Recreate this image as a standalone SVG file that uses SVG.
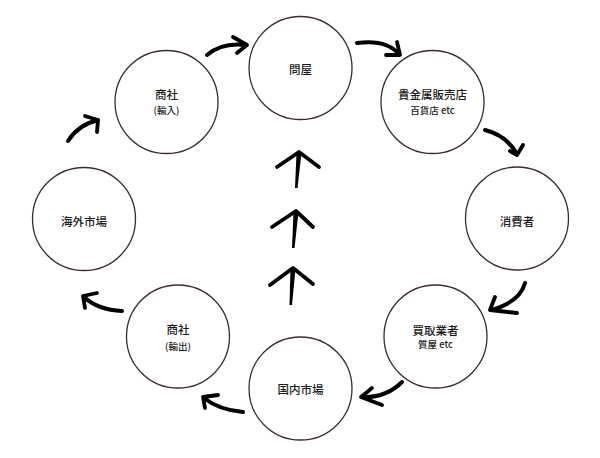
<svg xmlns="http://www.w3.org/2000/svg" width="600" height="458" viewBox="0 0 600 458">
<style>
.node circle{fill:#fff;stroke:#3a2d29;stroke-width:1.3}
.t{font-family:"Noto Sans CJK JP","Noto Sans",sans-serif;font-size:11.5px;font-weight:500;fill:#1a1a1a;text-anchor:middle}
.s{font-family:"Noto Sans CJK JP","Noto Sans",sans-serif;font-size:9.5px;font-weight:500;fill:#1a1a1a;text-anchor:middle}
.arr{fill:none;stroke:#000;stroke-width:4;stroke-linecap:round;stroke-linejoin:round}
.hd{fill:none;stroke:#000;stroke-width:3.8;stroke-linecap:round;stroke-linejoin:round}
.up{fill:#000}
</style>
<rect width="600" height="458" fill="#fff"/>
<g id="connectors">
<path class="arr" d="M207,55 Q222,42 246,45"/>
<path class="hd" d="M233,37 L247,45 L237,53"/>
<path class="arr" d="M357,43 Q386,39 399,54"/>
<path class="hd" d="M397,42 L400,55 L386,55"/>
<path class="arr" d="M485,130 Q506,135 517,154"/>
<path class="hd" d="M523,145 L517,155 L510,151"/>
<path class="arr" d="M525,283 Q520,302 491,310"/>
<path class="hd" d="M495,297 L490,310 L517,313"/>
<path class="arr" d="M402,382 Q386,398 362,397"/>
<path class="hd" d="M372,388 L361,397 L382,405"/>
<path class="arr" d="M243,412 Q219,410 204,398"/>
<path class="hd" d="M218,395 L203,397 L205,408"/>
<path class="arr" d="M122,311 Q98,310 84,297"/>
<path class="hd" d="M97,293 L83,296 L85,308"/>
<path class="arr" d="M68,141 Q78,125 98,120"/>
<path class="hd" d="M85,116 L98,120 L97,132"/>
<path class="up" d="M296.5,153 L301.5,153 L297.5,188 L295,188 Z"/>
<path class="hd" d="M277,167 L299,152 L319,167"/>
<path class="up" d="M293.5,212 L298.5,212 L294.5,248 L292,248 Z"/>
<path class="hd" d="M272,227 L296,211 L313,227"/>
<path class="up" d="M290.5,269 L295.5,269 L292,305 L289.5,305 Z"/>
<path class="hd" d="M270,285 L293,268 L313,284"/>
</g>
<g id="tonya" class="node"><circle cx="300.5" cy="68" r="51.5"/><text class="t" x="300.5" y="74">問屋</text></g>
<g id="shosha-yunyu" class="node"><circle cx="166.5" cy="102" r="51.5"/><text class="t" x="166.5" y="99">商社</text><text class="s" x="166.5" y="114">(輸入)</text></g>
<g id="kikinzoku" class="node"><circle cx="432.5" cy="102" r="51.5"/><text class="t" x="432.5" y="99">貴金属販売店</text><text class="s" x="432.5" y="114">百貨店 etc</text></g>
<g id="kaigai" class="node"><circle cx="84" cy="219" r="51.5"/><text class="t" x="84" y="226">海外市場</text></g>
<g id="shohisha" class="node"><circle cx="517" cy="218.5" r="51.5"/><text class="t" x="517" y="226">消費者</text></g>
<g id="shosha-yushutsu" class="node"><circle cx="178" cy="336.5" r="51.5"/><text class="t" x="178" y="334">商社</text><text class="s" x="178" y="350">(輸出)</text></g>
<g id="kokunai" class="node"><circle cx="300.5" cy="388.5" r="51.5"/><text class="t" x="300.5" y="394">国内市場</text></g>
<g id="kaitori" class="node"><circle cx="435.5" cy="336.5" r="51.5"/><text class="t" x="435.5" y="335">買取業者</text><text class="s" x="435.5" y="348">質屋 etc</text></g>
</svg>
